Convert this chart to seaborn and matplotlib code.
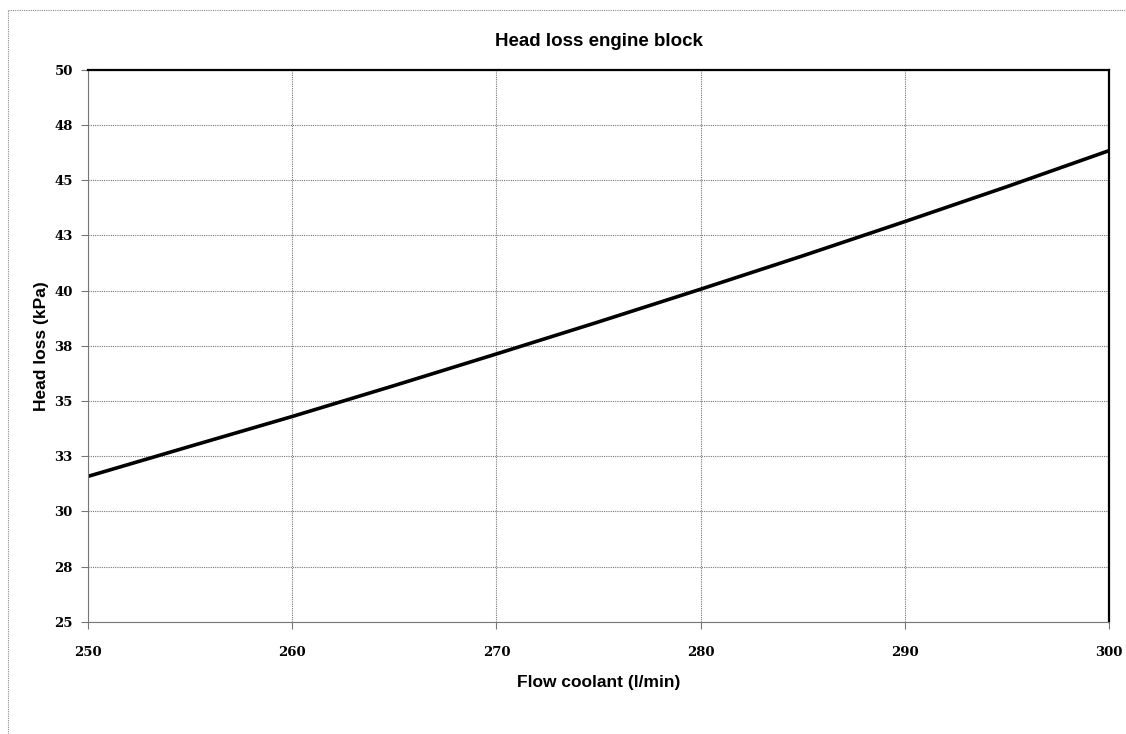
import math
import seaborn as sns
import pandas as pd
import matplotlib.pyplot as plt
from matplotlib.lines import Line2D
from matplotlib.ticker import FuncFormatter

# values
flow = [250, 255, 260, 265, 270, 275, 280, 285, 290, 295, 300]
head_loss = [31.59, 32.95, 34.30, 35.70, 37.13, 38.58, 40.06, 41.57, 43.12, 44.70, 46.33]
x_ticks = [250, 260, 270, 280, 290, 300]
y_ticks = [25, 27.5, 30, 32.5, 35, 37.5, 40, 42.5, 45, 47.5, 50]

df = pd.DataFrame({"Flow coolant (l/min)": flow, "Head loss (kPa)": head_loss})

sns.set_style("white", {"text.color": "black", "axes.labelcolor": "black",
                        "xtick.color": "black", "ytick.color": "black"})
fig = plt.figure(figsize=(11.26, 7.34), dpi=100)
ax = fig.add_axes([0.0782, 0.1526, 0.9068, 0.7527])

sns.lineplot(data=df, x="Flow coolant (l/min)", y="Head loss (kPa)",
             ax=ax, color="black", linewidth=2.6)

ax.set_xlim(250, 300)
ax.set_ylim(25, 50)
ax.set_xticks(x_ticks)
ax.set_yticks(y_ticks)
# excel style rounding of labels (27.5 -> 28)
ax.yaxis.set_major_formatter(FuncFormatter(lambda v, p: "%d" % math.floor(v + 0.5)))

ax.grid(True, color="#777777", linestyle=(0, (1, 1)), linewidth=0.8)
ax.tick_params(axis="both", which="major", direction="out", length=5, width=0.8,
               color="#777777", labelcolor="black", left=True, bottom=True, pad=6)
for lab in ax.get_xticklabels() + ax.get_yticklabels():
    lab.set_fontfamily("DejaVu Serif")
    lab.set_fontweight("bold")
    lab.set_fontsize(9.5)
ax.tick_params(axis="x", pad=12)

for side in ["left", "bottom"]:
    ax.spines[side].set_color("#777777")
    ax.spines[side].set_linestyle((0, (1, 1)))
    ax.spines[side].set_linewidth(0.8)
for side in ["top", "right"]:
    ax.spines[side].set_color("black")
    ax.spines[side].set_linewidth(1.6)

ax.set_xlabel("Flow coolant (l/min)", fontfamily="Liberation Sans", color="black",
              fontweight="bold", fontsize=12.5, labelpad=12)
ax.set_ylabel("Head loss (kPa)", fontfamily="Liberation Sans", color="black",
              fontweight="bold", fontsize=12.5, labelpad=4)
ax.set_title("Head loss engine block", fontfamily="Liberation Sans", color="black",
             fontweight="bold", fontsize=13.5, pad=17)

# dotted outer chart frame
fig.add_artist(Line2D([8 / 1126, 8 / 1126], [0, 1 - 10 / 734], transform=fig.transFigure,
                      color="#888888", linestyle=(0, (1, 1)), linewidth=0.8))
fig.add_artist(Line2D([8 / 1126, 1], [1 - 10 / 734, 1 - 10 / 734], transform=fig.transFigure,
                      color="#888888", linestyle=(0, (1, 1)), linewidth=0.8))

plt.savefig("out.png", dpi=100)
